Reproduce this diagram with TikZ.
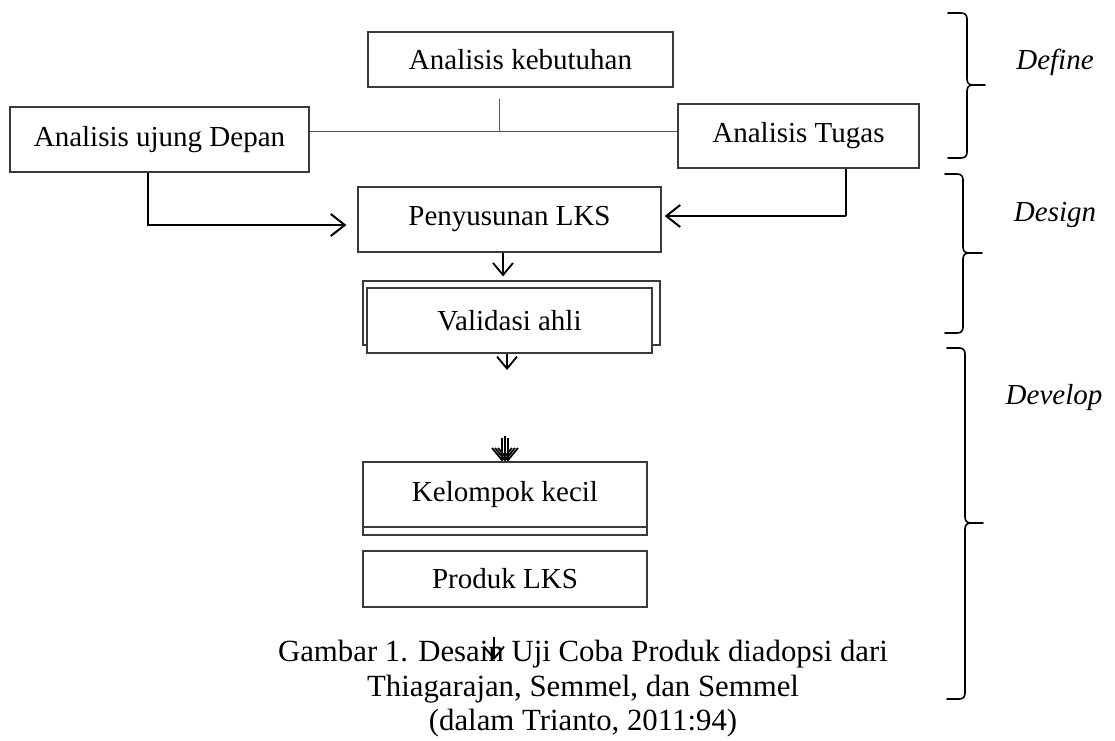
\documentclass[tikz,border=0pt]{standalone}
\usepackage{fontspec}
\setmainfont{Liberation Serif}
\usetikzlibrary{arrows.meta,calc}
\definecolor{boxgray}{HTML}{3A3A3A}
\definecolor{linegray}{HTML}{555555}
\tikzset{
  box/.style={draw=boxgray, line width=1.2pt, fill=white, inner sep=0pt,
    font=\fontsize{29}{33}\selectfont},
  arr/.style={-{Straight Barb[length=12pt,width=20pt]}, line width=1.8pt},
  harr/.style={-{Straight Barb[length=14pt,width=22pt]}, line width=2pt},
  tline/.style={draw=linegray, line width=1pt},
  br/.style={line width=1.6pt, line cap=round},
  lab/.style={font=\fontsize{29}{33}\selectfont\itshape},
  captxt/.style={font=\fontsize{30.8}{34.5}\selectfont, align=center, inner sep=0pt}
}
\begin{document}
\begin{tikzpicture}[x=1pt,y=-1pt]
\useasboundingbox[fill=white] (0,0) rectangle (1115,740);
% boxes
\node[box, minimum width=305pt, minimum height=55pt] (keb) at (520.5,59.5) {Analisis kebutuhan};
\node[box, minimum width=299pt, minimum height=65pt] (dep) at (159.5,139.5) {Analisis ujung Depan};
\node[box, minimum width=241pt, minimum height=64pt] (tug) at (798.5,136) {Analisis Tugas};
\node[box, minimum width=303pt, minimum height=65pt] (pen) at (509.5,219.5) {Penyusunan LKS};
\node[box, minimum width=297pt, minimum height=64pt] (valb) at (511.5,313) {};
\node[box, minimum width=285pt, minimum height=65pt] (val) at (509.5,320.5) {Validasi ahli};
\node[box, minimum width=284pt, minimum height=65pt] (kelb) at (505,502.5) {};
\node[box, minimum width=284pt, minimum height=65pt] (kel) at (505,494.5) {Kelompok kecil};
\node[box, minimum width=284pt, minimum height=56pt] (prod) at (505,579) {Produk LKS};
% T junction
\coordinate (j) at (499,131);
\draw[tline] (dep.east |- j) -- (tug.west |- j);
\draw[tline] (j) -- ([yshift=-11pt]keb.south -| j);
% side arrows
\coordinate (a1) at (148,225);
\draw[harr] (dep.south -| a1) |- ([xshift=-11pt]pen.west |- a1);
\coordinate (a2) at (846,216);
\draw[line width=1.2pt] (tug.south -| a2) -- (a2);
\draw[harr] (a2) -- ([xshift=3pt]pen.east |- a2);
% vertical arrows
\coordinate (p1) at (503,0);
\draw[arr] (pen.south -| p1) -- ([yshift=4pt]valb.north -| p1);
\coordinate (e1) at (507,370);
\draw[arr] (val.south -| e1) -- (e1);
\coordinate (e2) at (502,438);
\coordinate (e2b) at (505,436);
\coordinate (e2c) at (508,438);
\draw[arr] (e2) -- (kel.north -| e2);
\draw[arr] (e2b) -- (kel.north -| e2b);
\draw[arr] (e2c) -- (kel.north -| e2c);
\coordinate (e3) at (494,637);
\coordinate (e4) at (494,660);
% caption
\node[captxt] (capt) at (583,689) {Gambar 1. Desain Uji Coba Produk diadopsi dari\\Thiagarajan, Semmel, dan Semmel\\(dalam Trianto, 2011:94)};
\draw[arr] (e3) -- (e4);
% braces
\draw[br] (948,13) -- (961,13) .. controls (965,13) and (967,15) .. (967,19) -- (967,79)
  .. controls (967,83) and (969,85) .. (973,85) -- (985,85);
\draw[br] (973,85) .. controls (969,85) and (967,87) .. (967,91) -- (967,152)
  .. controls (967,156) and (965,158) .. (961,158) -- (948,158);
\draw[br] (945,174) -- (957,174) .. controls (961,174) and (963,176) .. (963,180) -- (963,247)
  .. controls (963,251) and (965,253) .. (969,253) -- (982,253);
\draw[br] (969,253) .. controls (965,253) and (963,255) .. (963,259) -- (963,327)
  .. controls (963,331) and (961,333) .. (957,333) -- (945,333);
\draw[br] (947,348) -- (959,348) .. controls (963,348) and (965,350) .. (965,354) -- (965,517)
  .. controls (965,521) and (967,523) .. (971,523) -- (983,523);
\draw[br] (971,523) .. controls (967,523) and (965,525) .. (965,529) -- (965,693)
  .. controls (965,697) and (963,699) .. (959,699) -- (947,699);
\node[lab] (ldef) at (1055,62) {Define};
\node[lab] (ldes) at (1055,215) {Design};
\node[lab] (ldev) at (1054,398) {Develop};
\end{tikzpicture}
\end{document}
